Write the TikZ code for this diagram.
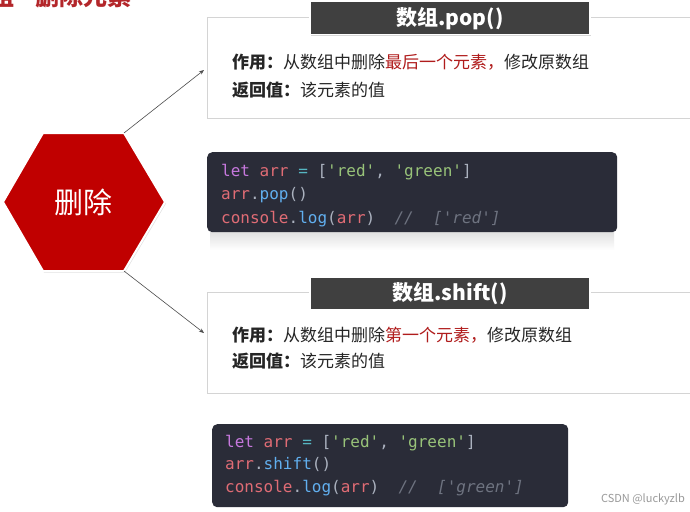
\documentclass[tikz,border=0pt]{standalone}
\usepackage{fontspec}
\setmainfont{Noto Sans CJK SC}
\setmonofont{DejaVu Sans Mono}
\usetikzlibrary{shadows,arrows.meta}
\definecolor{titlered}{HTML}{B3262A}
\definecolor{hexred}{HTML}{C00000}
\definecolor{hlred}{HTML}{B01C1C}
\definecolor{tabgray}{HTML}{404040}
\definecolor{boxline}{HTML}{D4D4D4}
\definecolor{codebg}{HTML}{2A2C38}
\definecolor{ckw}{HTML}{C678DD}
\definecolor{cvar}{HTML}{E06C75}
\definecolor{cstr}{HTML}{98C379}
\definecolor{cfn}{HTML}{61AFEF}
\definecolor{cop}{HTML}{56B6C2}
\definecolor{cp}{HTML}{ABB2BF}
\definecolor{ccm}{HTML}{6E7380}
\newcommand{\codekw}[1]{\textcolor{ckw}{#1}}
\newcommand{\codevar}[1]{\textcolor{cvar}{#1}}
\newcommand{\codestr}[1]{\textcolor{cstr}{#1}}
\newcommand{\codefn}[1]{\textcolor{cfn}{#1}}
\newcommand{\codeop}[1]{\textcolor{cop}{#1}}
\newcommand{\codep}[1]{\textcolor{cp}{#1}}
\newcommand{\codecm}[1]{\textcolor{ccm}{\itshape #1}}
\tikzset{
  infobox/.style={draw=boxline, line width=0.8pt, fill=white, anchor=north west, minimum width=490pt, minimum height=101pt},
  tabbox/.style={fill=tabgray, draw=white, line width=1.5pt, anchor=north, minimum width=280pt, minimum height=33pt, text=white, font=\fontsize{21}{23}\selectfont\bfseries, drop shadow={opacity=0.3, shadow xshift=1pt, shadow yshift=-1.5pt}},
  bodytext/.style={anchor=base west, inner sep=0pt, font=\fontsize{17}{19}\selectfont, text=black!85},
  codebox/.style={fill=codebg, rounded corners=5pt, anchor=north west},
  codeline/.style={anchor=base west, inner sep=0pt, font=\fontsize{16}{18}\selectfont\ttfamily},
  conn/.style={draw=black!70, line width=0.6pt, -{Stealth[length=5pt,width=4pt]}}
}
\begin{document}
\begin{tikzpicture}[x=1pt,y=-1pt]
\useasboundingbox (0,0) rectangle (690,511);
\clip (0,0) rectangle (690,511);
\fill[white] (0,0) rectangle (690,511);

% title (cut off at top, as in the reference)
\node[anchor=base east, inner sep=0pt, font=\fontsize{24}{26}\selectfont\bfseries, text=titlered] (title) at (132,6) {数组\hspace{6pt}-\hspace{6pt}删除元素};

% hexagon
\coordinate (hl) at (3,202);
\coordinate (htl) at (43,133);
\coordinate (htr) at (124,133);
\coordinate (hr) at (165,202);
\coordinate (hbr) at (124,271);
\coordinate (hbl) at (43,271);
\filldraw[fill=hexred, draw=white, line width=2pt, drop shadow={opacity=0.25, shadow xshift=1pt, shadow yshift=-1.5pt}] (hl)--(htl)--(htr)--(hr)--(hbr)--(hbl)--cycle;
\node[font=\fontsize{29}{31}\selectfont, text=white] (del) at (83,202) {删除};

% box 1
\node[infobox] (box1) at (207,17) {};
\node[tabbox] (tab1) at (450,1) {数组.pop()};
\node[bodytext] (use1) at (232,68) {\textbf{作用：}从数组中删除\textcolor{hlred}{最后一个元素，}修改原数组};
\node[bodytext] (ret1) at (232,96) {\textbf{返回值：}该元素的值};

% code 1 with faint reflection
\shade[top color=black!12, bottom color=white] (210,232) rectangle (614,250);
\node[codebox, minimum width=410pt, minimum height=80pt] (code1) at (207,152) {};
\node[codeline] (c1a) at (221,176) {\codekw{let} \codevar{arr} \codeop{=} \codep{[}\codestr{'red'}\codep{,} \codestr{'green'}\codep{]}};
\node[codeline] (c1b) at (221,199.5) {\codevar{arr}\codep{.}\codefn{pop}\codep{()}};
\node[codeline] (c1c) at (221,223) {\codevar{console}\codep{.}\codefn{log}\codep{(}\codevar{arr}\codep{)}\ \ \codecm{//\ \ ['red']}};

% box 2
\node[infobox] (box2) at (207,292) {};
\node[tabbox] (tab2) at (450,276) {数组.shift()};
\node[bodytext] (use2) at (232,341) {\textbf{作用：}从数组中删除\textcolor{hlred}{第一个元素，}修改原数组};
\node[bodytext] (ret2) at (232,367) {\textbf{返回值：}该元素的值};

% code 2
\node[codebox, minimum width=356pt, minimum height=83pt] (code2) at (212,424) {};
\node[codeline] (c2a) at (225,447) {\codekw{let} \codevar{arr} \codeop{=} \codep{[}\codestr{'red'}\codep{,} \codestr{'green'}\codep{]}};
\node[codeline] (c2b) at (225,469.5) {\codevar{arr}\codep{.}\codefn{shift}\codep{()}};
\node[codeline] (c2c) at (225,492) {\codevar{console}\codep{.}\codefn{log}\codep{(}\codevar{arr}\codep{)}\ \ \codecm{//\ \ ['green']}};

% connectors
\coordinate (a1) at (204,70);
\coordinate (a2) at (204,333);
\draw[conn] (htr) -- (a1);
\draw[conn] (hbr) -- (a2);

% watermark
\node[anchor=base east, inner sep=0pt, font=\fontsize{11}{12}\selectfont, text=black!40] (wm) at (685,502) {CSDN @luckyzlb};
\end{tikzpicture}
\end{document}
